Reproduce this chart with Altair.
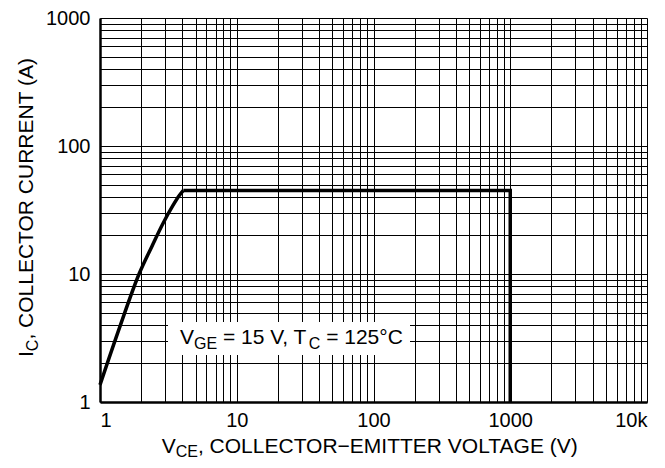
import altair as alt
import pandas as pd

# ---- data ----
# rising part of the curve
curve_vce = [1.0, 1.4, 1.93, 2.4, 2.9, 3.4, 3.8, 4.07]
curve_ic = [1.36, 3.9, 10.0, 16.5, 25.0, 34.0, 41.0, 45.0]
# flat (current limit) part and the vertical voltage limit
limit_vce = [4.07, 1000, 1000]
limit_ic = [45.0, 45.0, 1.0]

x_tick_values = [1, 10, 100, 1000, 10000]
x_tick_labels = ["1", "10", "100", "1000", "10k"]
y_tick_values = [1, 10, 100, 1000]
y_tick_labels = ["1", "10", "100", "1000"]

df_curve = pd.DataFrame({"vce": curve_vce, "ic": curve_ic, "ord": list(range(len(curve_vce)))})
df_limit = pd.DataFrame({"vce": limit_vce, "ic": limit_ic, "ord": list(range(len(limit_vce)))})

# grid positions (1..9 per decade)
x_grid = [m * 10 ** d for d in range(4) for m in range(1, 10)] + [10000]
y_grid = [m * 10 ** d for d in range(3) for m in range(1, 10)] + [1000]


def label_expr(vals, labs):
    e = "''"
    for v, l in reversed(list(zip(vals, labs))):
        e = f"datum.value == {v} ? '{l}' : ({e})"
    return e


FONT = "Liberation Sans"
W = 547
H = 384

# Arial/Liberation Sans advance widths (per 1000 em)
AW = {"V": 667, "C": 722, "E": 667, "G": 778, "I": 278, "T": 611, " ": 278,
      ",": 278, "=": 584, "1": 556, "2": 556, "5": 556, "°": 400}


def tw(s, size):
    return sum(AW.get(ch, 600) for ch in s) * size / 1000.0


xscale = alt.Scale(type="log", domain=[1, 10000], nice=False)
yscale = alt.Scale(type="log", domain=[1, 1000], nice=False)

xaxis = alt.Axis(values=x_grid, labelExpr=label_expr(x_tick_values, x_tick_labels),
                 title=None, ticks=False, grid=True, gridColor="black", gridWidth=1,
                 gridOpacity=1, domainColor="black", domainWidth=2.5,
                 labelFont=FONT, labelFontSize=20, labelColor="black",
                 labelPadding=8, labelFlush=True, labelOverlap=False)
yaxis = alt.Axis(values=y_grid, labelExpr=label_expr(y_tick_values, y_tick_labels),
                 title=None, ticks=False, grid=True, gridColor="black", gridWidth=1,
                 gridOpacity=1, domainColor="black", domainWidth=2.5,
                 labelFont=FONT, labelFontSize=20, labelColor="black",
                 labelPadding=10, labelOverlap=False)

curve = alt.Chart(df_curve).mark_line(color="black", strokeWidth=3.5, interpolate="monotone",
                                      strokeCap="butt").encode(
    x=alt.X("vce:Q", scale=xscale, axis=xaxis),
    y=alt.Y("ic:Q", scale=yscale, axis=yaxis),
    order="ord:Q",
)
limit = alt.Chart(df_limit).mark_line(color="black", strokeWidth=3.5, strokeJoin="miter",
                                      strokeCap="butt").encode(
    x=alt.X("vce:Q", scale=xscale, axis=xaxis),
    y=alt.Y("ic:Q", scale=yscale, axis=yaxis),
    order="ord:Q",
)

layers = [curve, limit]


def txt(text, x, y, size, angle=0, align="left"):
    kw = dict(text=text, font=FONT, fontSize=size, color="black", align=align, baseline="alphabetic")
    if angle:
        kw["angle"] = angle
    return alt.Chart(pd.DataFrame({"t": [text]})).mark_text(**kw).encode(
        x=alt.value(x), y=alt.value(y))


def run(pieces, start, along_x, base_other, big, sub, shift, angle=0):
    """Place text pieces one after another; leading spaces become offsets."""
    pos = start
    sign = 1 if along_x else -1
    for s, sz in pieces:
        stripped = s.lstrip(" ")
        pos += sign * tw(s[: len(s) - len(stripped)], sz)
        other = base_other + (shift if sz == sub else 0)
        if along_x:
            layers.append(txt(stripped, pos, other, sz, angle))
        else:
            layers.append(txt(stripped, other, pos, sz, angle))
        pos += sign * tw(stripped, sz)


big, sub, shift = 21, 16, 4.5

# annotation box + text
box = alt.Chart(pd.DataFrame({"a": [0]})).mark_rect(color="white", opacity=1).encode(
    x=alt.value(68), x2=alt.value(310), y=alt.value(304), y2=alt.value(337))
layers.append(box)
run([("V", big), ("GE", sub), (" = 15 V, T", big), ("C", sub), (" = 125°C", big)],
    80.0, True, 326.0, big, sub, shift)

# x axis title with subscript
run([("V", big), ("CE", sub), (", COLLECTOR−EMITTER VOLTAGE (V)", big)],
    61.7, True, 434.5, big, sub, shift)

# y axis title (rotated) with subscript
run([("I", big), ("C", sub), (", COLLECTOR CURRENT (A)", big)],
    339.0, False, -67.0, big, sub, shift, angle=270)

chart = alt.layer(*layers).properties(
    width=W, height=H,
    autosize=alt.AutoSizeParams(type="none"),
    padding={"left": 92, "top": 10, "right": 10, "bottom": 58},
).configure_view(stroke=None).configure(background="white")

chart.save("out.html", embed_options={"renderer": "svg", "actions": False})
